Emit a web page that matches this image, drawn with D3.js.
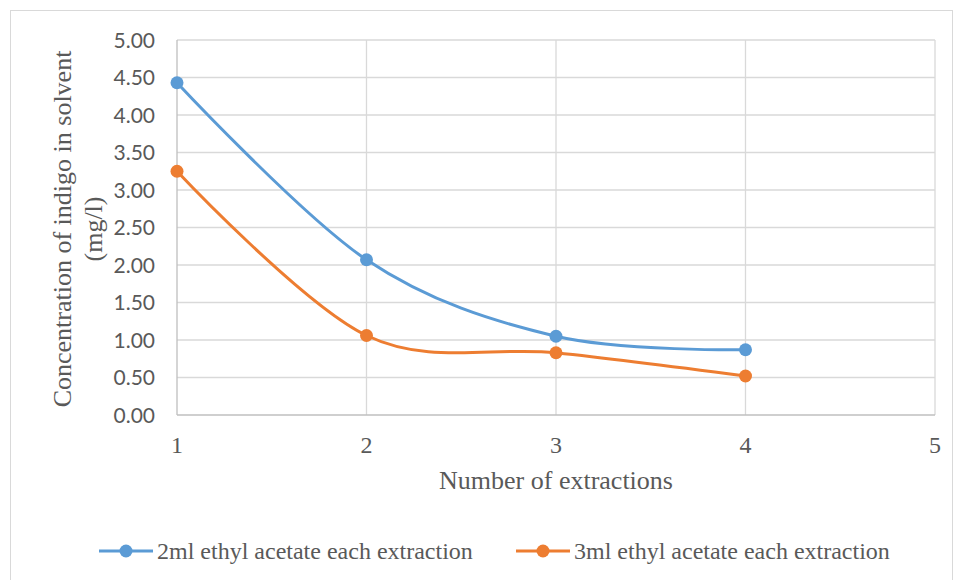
<!DOCTYPE html>
<html>
<head>
<meta charset="utf-8">
<script src="https://cdn.jsdelivr.net/npm/d3@7"></script>
<style>
  body { margin: 0; background: #fff; }
  text { fill: #595959; }
</style>
</head>
<body>
<script>
// data
const extractions = [1, 2, 3, 4];
const ml2 = [4.43, 2.07, 1.05, 0.87];
const ml3 = [3.25, 1.06, 0.83, 0.52];
const yTicks = [0, 0.5, 1, 1.5, 2, 2.5, 3, 3.5, 4, 4.5, 5];
const xTicks = [1, 2, 3, 4, 5];
const seriesNames = ['2ml ethyl acetate each extraction', '3ml ethyl acetate each extraction'];
const colors = ['#5b9bd5', '#ed7d31'];

const width = 955, height = 580;
const plotLeft = 177, plotRight = 935, plotTop = 40, plotBottom = 415;

const svg = d3.select('body').append('svg')
  .attr('width', width)
  .attr('height', height);

svg.append('rect')
  .attr('x', 10.5).attr('y', 10.5)
  .attr('width', 942).attr('height', 580)
  .attr('fill', 'none')
  .attr('stroke', '#d9d9d9');

const x = d3.scaleLinear().domain([1, 5]).range([plotLeft, plotRight]);
const y = d3.scaleLinear().domain([0, 5]).range([plotBottom, plotTop]);

// gridlines
svg.append('g')
  .selectAll('line')
  .data(yTicks.slice(1))
  .enter().append('line')
  .attr('x1', plotLeft).attr('x2', plotRight)
  .attr('y1', d => y(d)).attr('y2', d => y(d))
  .attr('stroke', '#d9d9d9').attr('stroke-width', 1.3);

svg.append('g')
  .selectAll('line')
  .data(xTicks.slice(1))
  .enter().append('line')
  .attr('x1', d => x(d)).attr('x2', d => x(d))
  .attr('y1', plotTop).attr('y2', plotBottom)
  .attr('stroke', '#d9d9d9').attr('stroke-width', 1.3);

// axis lines
svg.append('line')
  .attr('x1', plotLeft).attr('x2', plotLeft).attr('y1', plotTop).attr('y2', plotBottom)
  .attr('stroke', '#bfbfbf').attr('stroke-width', 1.3);
svg.append('line')
  .attr('x1', plotLeft).attr('x2', plotRight).attr('y1', plotBottom).attr('y2', plotBottom)
  .attr('stroke', '#bfbfbf').attr('stroke-width', 1.3);

// tick labels
svg.append('g')
  .selectAll('text')
  .data(yTicks)
  .enter().append('text')
  .attr('x', 155)
  .attr('y', d => y(d))
  .attr('dy', '0.36em')
  .attr('text-anchor', 'end')
  .style('font-family', 'Lato, "Open Sans", sans-serif')
  .style('font-size', '21px')
  .text(d => d.toFixed(2));

svg.append('g')
  .selectAll('text')
  .data(xTicks)
  .enter().append('text')
  .attr('x', d => x(d))
  .attr('y', 453)
  .attr('text-anchor', 'middle')
  .style('font-family', '"Liberation Serif", serif')
  .style('font-size', '24px')
  .text(d => d);

// axis titles
svg.append('text')
  .attr('x', 556)
  .attr('y', 489)
  .attr('text-anchor', 'middle')
  .style('font-family', '"Liberation Serif", serif')
  .style('font-size', '26px')
  .text('Number of extractions');

const yTitle = svg.append('text')
  .attr('transform', 'translate(71,229) rotate(-90)')
  .attr('text-anchor', 'middle')
  .style('font-family', '"Liberation Serif", serif')
  .style('font-size', '26px');
yTitle.append('tspan').attr('x', 0).attr('y', 0).text('Concentration of indigo in solvent');
yTitle.append('tspan').attr('x', 0).attr('y', 31).text('(mg/l)');

// series
const line = d3.line()
  .x(d => x(d[0]))
  .y(d => y(d[1]))
  .curve(d3.curveCatmullRom.alpha(0));

[ml2, ml3].forEach((vals, i) => {
  const pts = extractions.map((e, j) => [e, vals[j]]);
  svg.append('path')
    .datum(pts)
    .attr('d', line)
    .attr('fill', 'none')
    .attr('stroke', colors[i])
    .attr('stroke-width', 3);
  svg.append('g')
    .selectAll('circle')
    .data(pts)
    .enter().append('circle')
    .attr('cx', d => x(d[0]))
    .attr('cy', d => y(d[1]))
    .attr('r', 6.5)
    .attr('fill', colors[i]);
});

// legend
const legendX = [99, 516];
const legend = svg.append('g')
  .selectAll('g')
  .data(seriesNames)
  .enter().append('g')
  .attr('transform', (d, i) => `translate(${legendX[i]},551)`);

legend.append('line')
  .attr('x1', 0).attr('x2', 54)
  .attr('stroke', (d, i) => colors[i])
  .attr('stroke-width', 3);
legend.append('circle')
  .attr('cx', 27).attr('r', 6.5)
  .attr('fill', (d, i) => colors[i]);
legend.append('text')
  .attr('x', 58)
  .attr('dy', '0.33em')
  .style('font-family', '"Liberation Serif", serif')
  .style('font-size', '24px')
  .text(d => d);
</script>
</body>
</html>
